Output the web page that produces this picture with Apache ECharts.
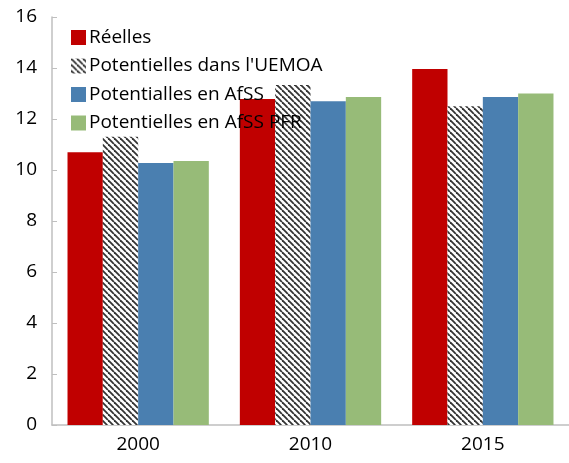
<!DOCTYPE html>
<html>
<head>
<meta charset="utf-8">
<script src="https://cdn.jsdelivr.net/npm/echarts@6/dist/echarts.min.js"></script>
<style>
  html, body { margin: 0; padding: 0; background: #fff; }
  #chart { width: 569px; height: 463px; }
</style>
</head>
<body>
<div id="chart"></div>
<script>
// data
const years = ["2000", "2010", "2015"];
const reelles = [10.7, 12.78, 13.96];
const potUemoa = [11.3, 13.33, 12.5];
const potAfss = [10.27, 12.7, 12.86];
const potAfssPfr = [10.35, 12.86, 13.0];
const yTicks = [0, 2, 4, 6, 8, 10, 12, 14, 16];

// diagonal hatch for the UEMOA series
function makeHatch() {
  const s = 6;
  const c = document.createElement("canvas");
  c.width = s;
  c.height = s;
  const ctx = c.getContext("2d");
  ctx.fillStyle = "#fff";
  ctx.fillRect(0, 0, s, s);
  ctx.strokeStyle = "#333";
  ctx.lineWidth = 1.8;
  for (let k = -1; k <= 1; k++) {
    ctx.beginPath();
    ctx.moveTo(k * s, 0);
    ctx.lineTo(k * s + s, s);
    ctx.stroke();
  }
  return c;
}

let myChart = echarts.init(document.getElementById("chart"));
const font = "'Open Sans', 'Noto Sans', sans-serif";

const seriesDefs = [
  { name: "Réelles", data: reelles, color: "#c00000" },
  { name: "Potentielles dans l'UEMOA", data: potUemoa, color: { image: makeHatch(), repeat: "repeat" } },
  { name: "Potentialles en AfSS", data: potAfss, color: "#4a7fb0" },
  { name: "Potentielles en AfSS PFR", data: potAfssPfr, color: "#97bb78" },
];

let option = {
  animation: false,
  textStyle: { fontFamily: font },
  legend: {
    orient: "vertical",
    left: 66,
    top: 23,
    itemWidth: 15,
    itemHeight: 15,
    itemGap: 9.5,
    icon: "rect",
    textStyle: { color: "#000", fontSize: 19, fontFamily: font, padding: [0, 0, 0, -2] },
    data: seriesDefs.map((s) => s.name),
  },
  grid: { left: 52, right: 0, top: 17, bottom: 38 },
  xAxis: {
    type: "category",
    data: years,
    axisLine: { lineStyle: { color: "#bfbfbf", width: 1.5 } },
    axisTick: { inside: true, length: 6, lineStyle: { color: "#bfbfbf" } },
    axisLabel: { color: "#000", fontSize: 19, margin: 10 },
  },
  yAxis: {
    type: "value",
    min: yTicks[0],
    max: yTicks[yTicks.length - 1],
    interval: 2,
    axisLine: { show: true, lineStyle: { color: "#bfbfbf", width: 1.5 } },
    axisTick: { show: true, inside: true, length: 5, lineStyle: { color: "#bfbfbf" } },
    splitLine: { show: false },
    axisLabel: { color: "#000", fontSize: 19, margin: 15 },
  },
  series: seriesDefs.map((s) => ({
    name: s.name,
    type: "bar",
    data: s.data,
    barGap: "0%",
    barCategoryGap: "18%",
    itemStyle: { color: s.color },
  })),
};
myChart.setOption(option);
</script>
</body>
</html>
